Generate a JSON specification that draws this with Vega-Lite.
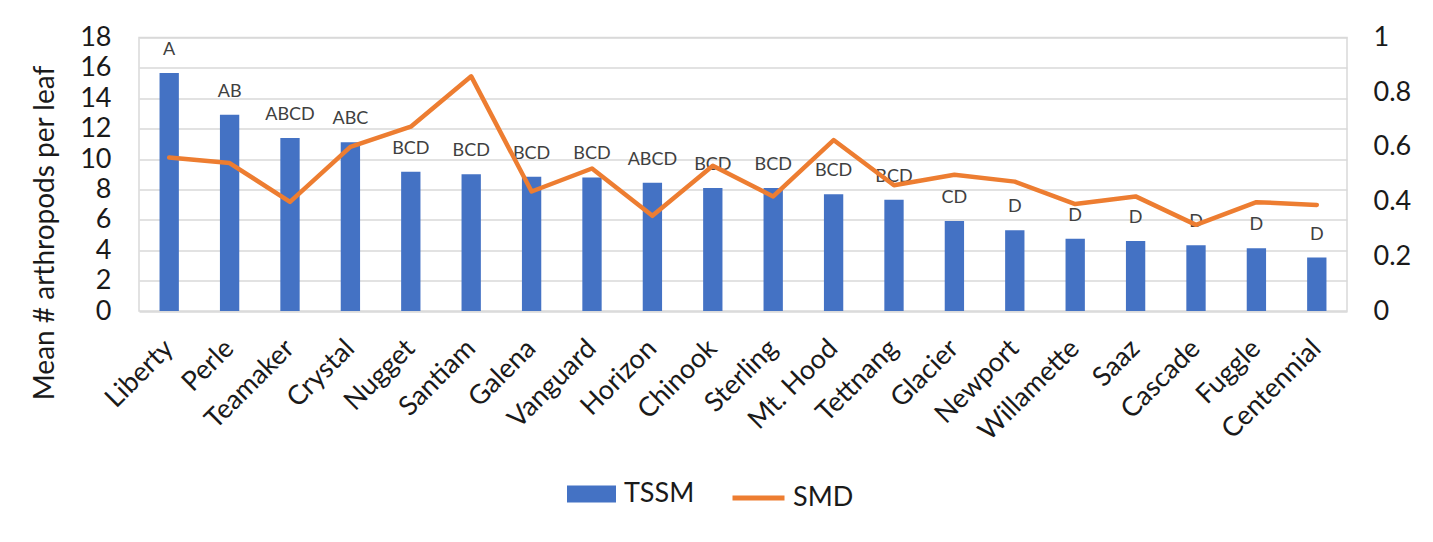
{
  "$schema": "https://vega.github.io/schema/vega-lite/v6.json",
  "width": 1208,
  "height": 273.5,
  "autosize": {"type": "none"},
  "padding": {"left": 139, "top": 37.5, "right": 86, "bottom": 231},
  "background": "white",
  "config": {
    "font": "Lato",
    "view": {"stroke": "#d9d9d9", "strokeWidth": 1.5},
    "axis": {"labelFont": "Lato", "titleFont": "Lato", "labelColor": "#1a1a1a", "titleColor": "#1a1a1a"},
    "legend": {"labelFont": "Lato"}
  },
  "data": {
    "values": [
      {"variety": "Liberty", "tssm": 15.67, "smd": 0.561, "letters": "A"},
      {"variety": "Perle", "tssm": 12.92, "smd": 0.541, "letters": "AB"},
      {"variety": "Teamaker", "tssm": 11.38, "smd": 0.399, "letters": "ABCD"},
      {"variety": "Crystal", "tssm": 11.1, "smd": 0.6, "letters": "ABC"},
      {"variety": "Nugget", "tssm": 9.16, "smd": 0.674, "letters": "BCD"},
      {"variety": "Santiam", "tssm": 9.0, "smd": 0.858, "letters": "BCD"},
      {"variety": "Galena", "tssm": 8.83, "smd": 0.437, "letters": "BCD"},
      {"variety": "Vanguard", "tssm": 8.79, "smd": 0.521, "letters": "BCD"},
      {"variety": "Horizon", "tssm": 8.44, "smd": 0.348, "letters": "ABCD"},
      {"variety": "Chinook", "tssm": 8.1, "smd": 0.531, "letters": "BCD"},
      {"variety": "Sterling", "tssm": 8.1, "smd": 0.419, "letters": "BCD"},
      {"variety": "Mt. Hood", "tssm": 7.69, "smd": 0.625, "letters": "BCD"},
      {"variety": "Tettnang", "tssm": 7.32, "smd": 0.46, "letters": "BCD"},
      {"variety": "Glacier", "tssm": 5.93, "smd": 0.498, "letters": "CD"},
      {"variety": "Newport", "tssm": 5.32, "smd": 0.473, "letters": "D"},
      {"variety": "Willamette", "tssm": 4.75, "smd": 0.391, "letters": "D"},
      {"variety": "Saaz", "tssm": 4.61, "smd": 0.419, "letters": "D"},
      {"variety": "Cascade", "tssm": 4.33, "smd": 0.315, "letters": "D"},
      {"variety": "Fuggle", "tssm": 4.13, "smd": 0.398, "letters": "D"},
      {"variety": "Centennial", "tssm": 3.52, "smd": 0.388, "letters": "D"}
    ]
  },
  "encoding": {
    "x": {
      "field": "variety",
      "type": "nominal",
      "sort": null,
      "scale": {"paddingInner": 0, "paddingOuter": 0},
      "axis": {
        "title": null,
        "labelAngle": -45,
        "labelAlign": "right",
        "labelBaseline": "middle",
        "labelFontSize": 27,
        "labelPadding": 33,
        "labelOverlap": false,
        "domain": false,
        "ticks": false,
        "grid": false
      }
    }
  },
  "layer": [
    {
      "encoding": {
        "y": {
          "field": "tssm",
          "type": "quantitative",
          "scale": {"domain": [0, 18], "nice": false},
          "axis": {
            "title": "Mean # arthropods per leaf",
            "titleFontSize": 28,
            "titleFontWeight": "normal",
            "titleY": 195,
            "titleX": -94,
            "titleAngle": -90,
            "titleAlign": "center",
            "titleBaseline": "middle",
            "values": [0, 2, 4, 6, 8, 10, 12, 14, 16, 18],
            "labelFontSize": 27,
            "labelPadding": 28,
            "labelOverlap": false,
            "labelBound": false,
            "labelFlush": false,
            "domain": false,
            "ticks": false,
            "grid": true,
            "gridColor": "#d9d9d9",
            "gridWidth": 1.5
          }
        }
      },
      "layer": [
        {
          "mark": {"type": "bar", "width": {"band": 0.32}},
          "encoding": {
            "fill": {
              "datum": "TSSM",
              "type": "nominal",
              "scale": {"domain": ["TSSM"], "range": ["#4472C4"]},
              "legend": {
                "title": null,
                "orient": "none",
                "legendX": 428,
                "legendY": 432,
                "padding": 0,
                "symbolType": "M-1,-0.35H1V0.35H-1Z",
                "symbolSize": 2401,
                "symbolStrokeWidth": 0,
                "labelFontSize": 27,
                "labelColor": "#1a1a1a",
                "labelOffset": 8
              }
            }
          }
        },
        {
          "mark": {"type": "text", "dy": -23, "baseline": "middle", "fontSize": 18, "color": "#404040", "font": "Lato"},
          "encoding": {
            "text": {"field": "letters"}
          }
        }
      ]
    },
    {
      "mark": {"type": "line", "strokeWidth": 4.5, "strokeCap": "round", "strokeJoin": "round"},
      "encoding": {
        "y": {
          "field": "smd",
          "type": "quantitative",
          "scale": {"domain": [0, 1], "nice": false},
          "axis": {
            "orient": "right",
            "title": null,
            "values": [0, 0.2, 0.4, 0.6, 0.8, 1],
            "format": ".1~f",
            "labelFontSize": 27,
            "labelAlign": "left",
            "labelPadding": 26,
            "labelOverlap": false,
            "domain": false,
            "ticks": false,
            "grid": false
          }
        },
        "stroke": {
          "datum": "SMD",
          "type": "nominal",
          "scale": {"domain": ["SMD"], "range": ["#ED7D31"]},
          "legend": {
            "title": null,
            "orient": "none",
            "legendX": 591,
            "legendY": 432,
            "padding": 0,
            "symbolType": "stroke",
            "symbolSize": 2704,
            "symbolStrokeWidth": 5,
            "labelFontSize": 27,
            "labelColor": "#1a1a1a",
            "labelOffset": 6
          }
        }
      }
    }
  ],
  "resolve": {"scale": {"y": "independent", "fill": "independent", "stroke": "independent"}}
}
